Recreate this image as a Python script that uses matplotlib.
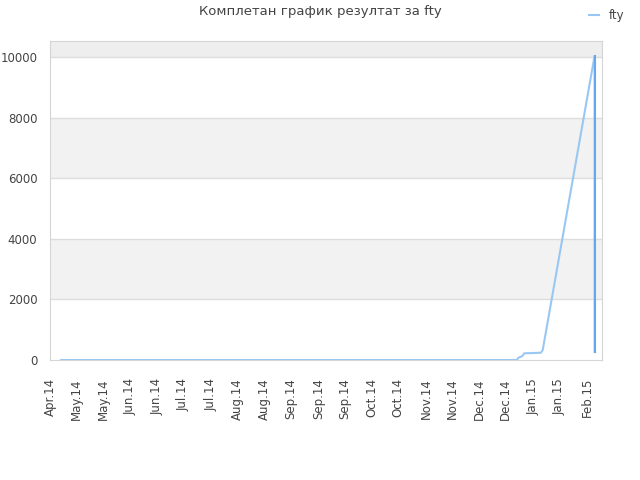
import matplotlib
matplotlib.use('Agg')
import matplotlib.pyplot as plt
from matplotlib.patches import Rectangle
import matplotlib.dates as mdates
import pandas as pd

## data
dates = pd.to_datetime([
	'2014-04-30', '2015-01-01', '2015-01-02', '2015-01-04', '2015-01-05',
	'2015-01-14', '2015-01-15', '2015-02-12', '2015-02-12',
])
values = [0, 0, 80, 130, 220, 240, 330, 10050, 270]

## the last drop is drawn twice in the reference -> darker part
drop_dates = pd.to_datetime(['2015-02-12', '2015-02-12'])
drop_values = [270, 10050]

tick_dates = pd.to_datetime([
	'2014-04-24', '2014-05-08', '2014-05-23', '2014-06-06', '2014-06-21',
	'2014-07-05', '2014-07-20', '2014-08-03', '2014-08-18', '2014-09-01',
	'2014-09-16', '2014-09-30', '2014-10-15', '2014-10-29', '2014-11-13',
	'2014-11-27', '2014-12-12', '2014-12-26', '2015-01-10', '2015-01-24',
	'2015-02-08',
])
tick_labels = ['Apr.14', 'May.14', 'May.14', 'Jun.14', 'Jun.14', 'Jul.14', 'Jul.14',
			   'Aug.14', 'Aug.14', 'Sep.14', 'Sep.14', 'Sep.14', 'Oct.14', 'Oct.14',
			   'Nov.14', 'Nov.14', 'Dec.14', 'Dec.14', 'Jan.15', 'Jan.15', 'Feb.15']
y_ticks = [0, 2000, 4000, 6000, 8000, 10000]

x_start, x_end = pd.Timestamp('2014-04-24'), pd.Timestamp('2015-02-16')
y_top = 10550

## plot
fig = plt.figure(figsize=(6.4, 4.8), dpi=100)
ax = fig.add_axes([50/640, 1-360/480, 552/640, 319.3/480])

# alternating bands
for lo, hi, col in [(2000, 4000, '#f2f2f2'), (6000, 8000, '#f2f2f2'), (10000, y_top, '#eeeeee')]:
	ax.add_patch(Rectangle((mdates.date2num(x_start), lo),
						   mdates.date2num(x_end)-mdates.date2num(x_start), hi-lo,
						   facecolor=col, edgecolor='none', zorder=0))
for yv in y_ticks[1:]:
	ax.axhline(yv, color='#dddddd', lw=1., zorder=1)

ax.plot(dates, values, color='#99c7f4', lw=1.5, zorder=3, label='fty')
ax.plot(drop_dates, drop_values, color='#64a9ee', lw=1.5, zorder=4)

ax.set_xlim(x_start, x_end)
ax.set_ylim(0, y_top)
ax.set_xticks(tick_dates)
ax.set_xticklabels(tick_labels, rotation=90, fontsize=8.5, color='#444444')
ax.set_yticks(y_ticks)
ax.set_yticklabels([str(v) for v in y_ticks], fontsize=8.5, color='#444444')
ax.tick_params(axis='x', length=0, pad=13)
ax.tick_params(axis='y', length=0, pad=9)
for sp in ax.spines.values():
	sp.set_color('#d5d5d5')

fig.text(0.5, 1-12/480, 'Комплетан график резултат за fty', ha='center', va='center',
		 fontsize=9.5, color='#444444')
fig.legend(loc='upper right', bbox_to_anchor=(0.992, 1.003), frameon=False, fontsize=8.5,
		   handlelength=0.9, handletextpad=0.8, labelcolor='#444444')

fig.savefig('out.png', dpi=100)
plt.close()
